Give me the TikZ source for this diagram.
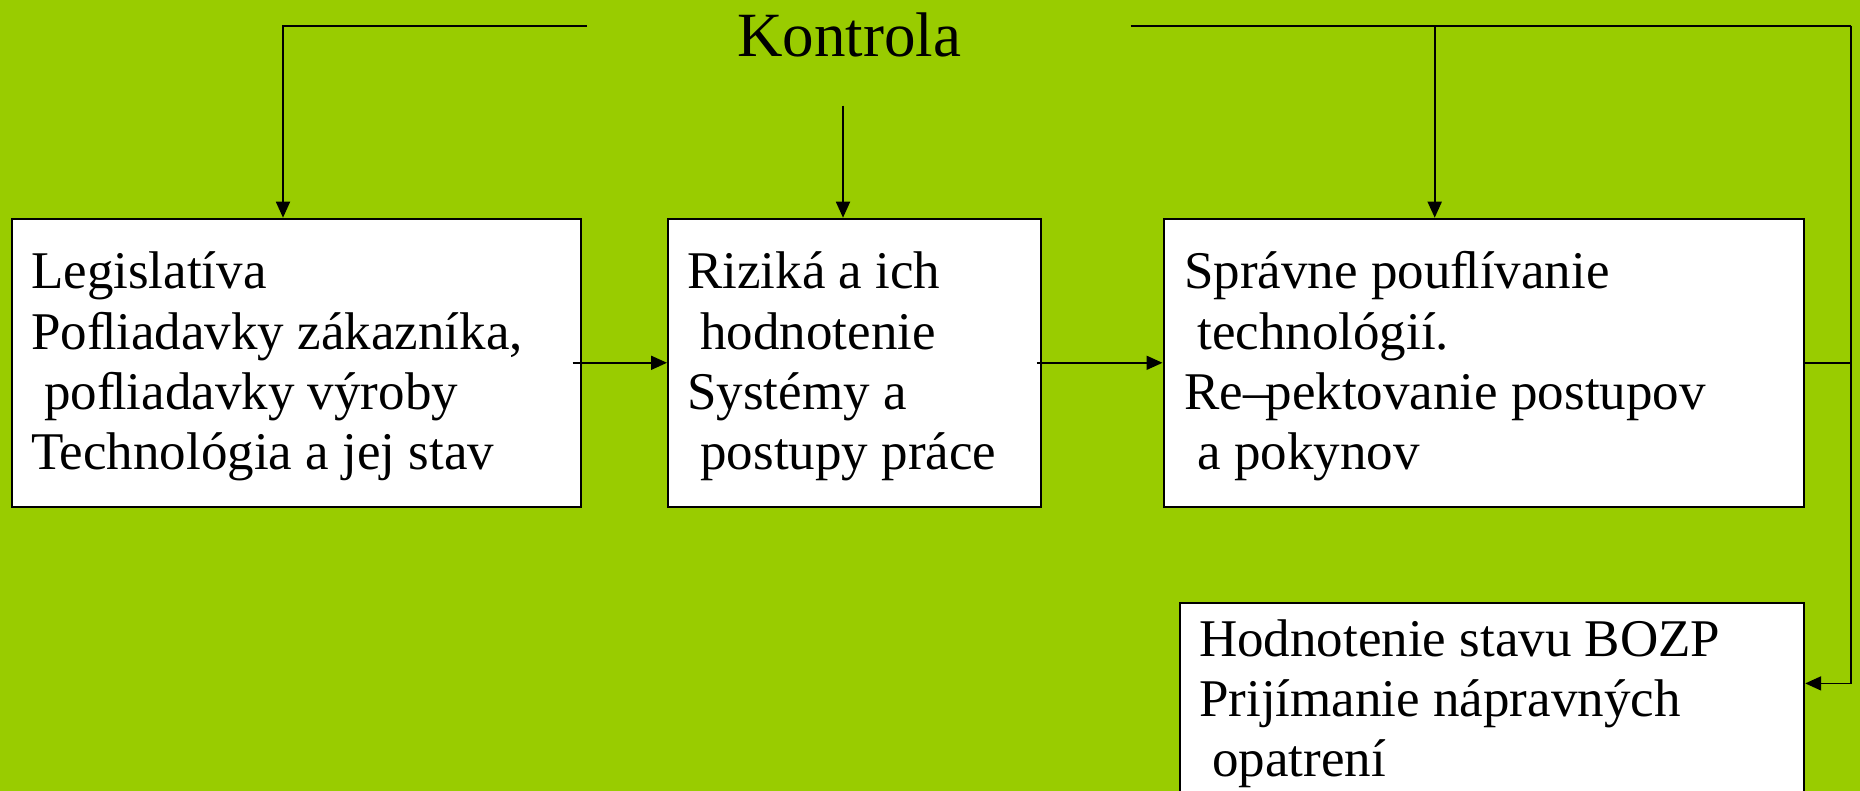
\documentclass[tikz,border=0pt]{standalone}
\usepackage{fontspec}
\setmainfont{Liberation Serif}
\usetikzlibrary{arrows.meta}
\definecolor{bg}{RGB}{153,204,0}
\begin{document}
\begin{tikzpicture}[x=1pt,y=-1pt,
  box/.style={draw=black, line width=2.2pt, fill=white, rectangle, inner sep=0pt, anchor=north west},
  txt/.style={anchor=base west, inner sep=0pt, font=\fontsize{53}{60.3}\selectfont},
  arr/.style={line width=1.8pt, -{Triangle[length=16pt,width=14pt]}},
  ln/.style={line width=1.8pt}]
\fill[bg] (0,0) rectangle (1860,791);
\useasboundingbox (0,0) rectangle (1860,791);
\begin{scope}
\clip (0,0) rectangle (1860,791);
\node[anchor=base west, inner sep=0pt, font=\fontsize{63}{70}\selectfont] (k) at (737,56.7) {Kontrola};
\node[box, minimum width=568.8pt, minimum height=288pt] (b1) at (10.7,217.7) {};
\node[box, minimum width=372.7pt, minimum height=288pt] (b2) at (667,217.7) {};
\node[box, minimum width=640.5pt, minimum height=288pt] (b3) at (1162.5,217.7) {};
\node[box, minimum width=624pt, minimum height=260pt] (b4) at (1179,601.7) {};
\node[txt] (t1) at (31,289) {\begin{tabular}[t]{@{}l@{}}Legislatíva\\Poﬂiadavky zákazníka,\\\ poﬂiadavky výroby\\Technológia a jej stav\end{tabular}};
\node[txt] (t2) at (687,289) {\begin{tabular}[t]{@{}l@{}}Riziká a ich\\\ hodnotenie\\Systémy a\\\ postupy práce\end{tabular}};
\node[txt] (t3) at (1184,289) {\begin{tabular}[t]{@{}l@{}}Správne pouﬂívanie\\\ technológií.\\Re–\kern-4pt pektovanie postupov\\\ a pokynov\end{tabular}};
\node[txt] (t4) at (1199,656) {\begin{tabular}[t]{@{}l@{}}Hodnotenie stavu BOZP\\Prijímanie nápravných\\\ opatrení\end{tabular}};
\coordinate (kl) at (587,25.7);
\coordinate (km) at (843,105.7);
\coordinate (kr) at (1130.5,25.7);
\coordinate (kb) at (1434.7,25.7);
\coordinate (cr) at (1851,25.7);
\draw[arr] (kl) -| ([xshift=272.3pt]b1.north west);
\draw[arr] (km) -- (km |- b2.north);
\draw[ln] (kr) -- (cr);
\draw[arr] (kb) -- (kb |- b3.north);
\draw[arr] (cr) |- ([yshift=-81.7pt]b4.north east);
\draw[ln] (b3.east) -- (b3.east -| cr);
\draw[arr] ([xshift=-9pt]b1.east) -- (b2.west);
\draw[arr] ([xshift=-5pt]b2.east) -- (b3.west);
\end{scope}
\end{tikzpicture}
\end{document}
